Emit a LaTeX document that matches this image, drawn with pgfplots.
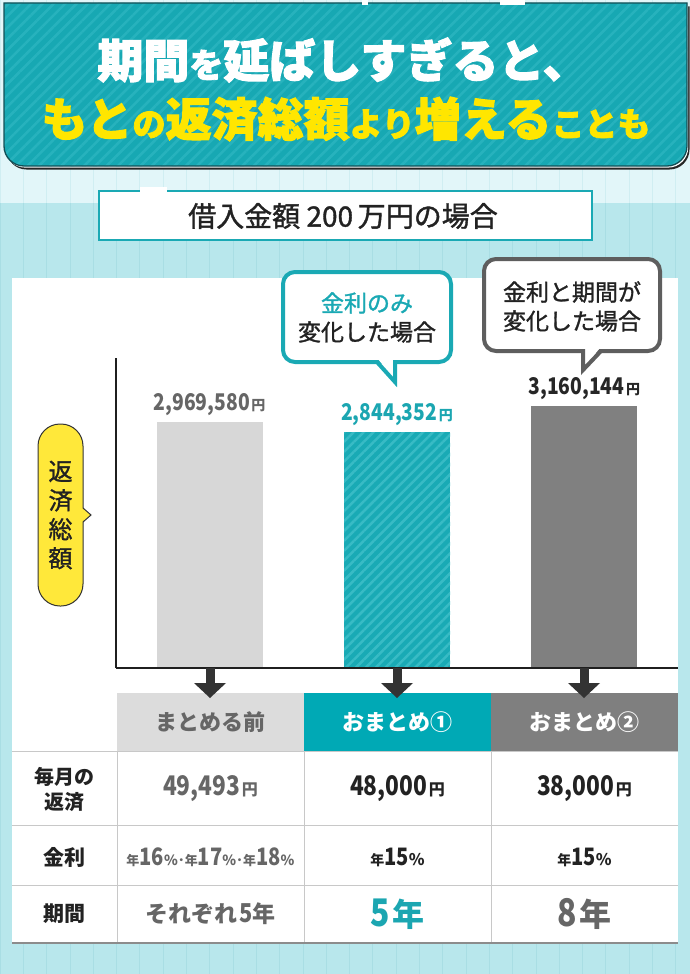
\documentclass[border=0pt]{standalone}
\usepackage{fontspec}
\setmainfont{Noto Sans CJK JP}
\newfontfamily\heavy[BoldFeatures={FakeBold=2.2}]{Noto Sans CJK JP}
\newfontfamily\med[UprightFeatures={FakeBold=1.3}]{Noto Sans CJK JP}
\usepackage{graphicx}
\usepackage{pgfplots}
\pgfplotsset{compat=1.18}
\usetikzlibrary{patterns.meta}
\definecolor{bgTop}{HTML}{E2F6F9}
\definecolor{gridTop}{HTML}{D0EEF2}
\definecolor{bgBot}{HTML}{B8E7EC}
\definecolor{gridBot}{HTML}{A9DEE4}
\definecolor{cTitle}{HTML}{17A8B3}
\definecolor{cTitleS}{HTML}{27B2BD}
\definecolor{cTitleB}{HTML}{124F56}
\definecolor{cTeal}{HTML}{1AA9B4}
\definecolor{cTealT}{HTML}{1BA6B1}
\definecolor{cHead}{HTML}{00A9B5}
\definecolor{cBarA}{HTML}{D7D7D7}
\definecolor{cBarB}{HTML}{19AAB5}
\definecolor{cBarBs}{HTML}{38BBC5}
\definecolor{cBarC}{HTML}{808080}
\definecolor{cHeadA}{HTML}{DCDCDC}
\definecolor{cHeadC}{HTML}{7F7F7F}
\definecolor{cTG}{HTML}{666666}
\definecolor{cDark}{HTML}{222222}
\definecolor{cYel}{HTML}{FFE600}
\definecolor{cPill}{HTML}{FFE83A}
\definecolor{cLine}{HTML}{C8C8C8}
\definecolor{cBub}{HTML}{5E5E5E}
\newcommand{\fs}[1]{\fontsize{#1}{#1}\selectfont}
\newcommand{\cn}[1]{\scalebox{0.84}[1]{#1}}
\begin{document}
\begin{tikzpicture}
\begin{scope}[x=1pt,y=-1pt]
\useasboundingbox (0,0) rectangle (690,974);
\clip (0,0) rectangle (690,974);
% background
\fill[bgTop] (0,0) rectangle (690,203);
\fill[bgBot] (0,203) rectangle (690,974);
\begin{scope}
\clip (0,0) rectangle (690,203);
\draw[gridTop, line width=0.8, step=23.3] (-18.3,-20) grid (700,210);
\end{scope}
\begin{scope}
\clip (0,203) rectangle (690,974);
\draw[gridBot, line width=0.8, step=23.3] (-18.3,190) grid (700,990);
\end{scope}
% title box
\def\tpath{(4,3) -- (4,146) arc[start angle=180,end angle=90,radius=20] -- (667,166) arc[start angle=90,end angle=0,radius=20] -- (687,3) -- cycle}
\fill[black!85, shift={(2.5,3.5)}] \tpath;
\fill[white, shift={(1.2,1.6)}] \tpath;
\fill[cTitle] \tpath;
\fill[pattern={Lines[angle=45,distance=8pt,line width=2.6pt]}, pattern color=cTitleS] \tpath;
\draw[cTitleB, line width=1.3] \tpath;
\fill[white] (362,0) rectangle (368,5);
\fill[white] (500,0) rectangle (525,5);
\node[text=white, inner sep=0] at (343,60) {\heavy\bfseries{\fs{46}期間}{\fs{34}を}{\fs{46}延ばしすぎると、}};
\node[text=cYel, inner sep=0] at (346,119) {\heavy\bfseries{\fs{46}もと}{\fs{33}の}{\fs{46}返済総額}{\fs{33}より}{\fs{46}増える}{\fs{33}ことも}};
% subtitle box
\draw[cTeal, line width=2.5, fill=white] (99,191) rectangle (592,240);
\fill[white] (140,187) rectangle (167,194);
\node[text=cDark] at (343,216) {\med\fs{28}借入金額 200\,万円の場合};
% white panel
\fill[white] (12,278) rectangle (678,943);
\end{scope}

\begin{axis}[
 at={(116pt,-668pt)}, anchor=south west,
 width=562pt, height=310pt, scale only axis,
 xmin=-0.5, xmax=2.5, ymin=0, ymax=3738600,
 axis x line=bottom, axis y line=left,
 axis line style={-, line width=2.6pt, draw=black!88},
 xtick=\empty, ytick=\empty,
 axis on top, clip=false,
 ybar, bar width=106pt, bar shift=0pt,
 point meta=explicit symbolic,
 nodes near coords={\bfseries\cn{\fs{23}\pgfplotspointmeta}\,{\fs{14}円}},
 every node near coord/.append style={yshift=3pt},
]
\addplot[fill=cBarA, draw=none, every node near coord/.append style={text=cTG}]
 coordinates {(0,2969580) [{2,969,580}]};
\addplot[fill=cBarB, draw=none, postaction={pattern={Lines[angle=45,distance=7pt,line width=2.5pt]}, pattern color=cBarBs}, every node near coord/.append style={text=cTealT}]
 coordinates {(1,2844352) [{2,844,352}]};
\addplot[fill=cBarC, draw=none, every node near coord/.append style={text=black!85}]
 coordinates {(2,3160144) [{3,160,144}]};
\end{axis}

\begin{scope}[x=1pt,y=-1pt]
% bubbles
\draw[cTeal, line width=4, fill=white, rounded corners=12] (283,272) rectangle (451,362);
\fill[white] (378,359) -- (393,359) -- (393,378) -- cycle;
\draw[cTeal, line width=4, line join=miter] (377,362) -- (395,382) -- (395,360);
\node[text=cTeal] at (367,303) {\med\fs{23}金利のみ};
\node[text=cDark] at (367,332) {\med\fs{23}変化した場合};
\draw[cBub, line width=4, fill=white, rounded corners=12] (484,259) rectangle (660,351);
\fill[white] (585,348) -- (600,348) -- (585,366) -- cycle;
\draw[cBub, line width=4, line join=miter] (583,349) -- (583,370) -- (601,351);
\node[text=cDark] at (572,292) {\med\fs{23}金利と期間が};
\node[text=cDark] at (572,321) {\med\fs{23}変化した場合};
% yellow pill
\draw[fill=cPill, draw=black!80, line width=1, rounded corners=22] (38,424) rectangle (83,606);
\fill[cPill] (82,508) -- (91,515) -- (82,522) -- cycle;
\draw[black!80, line width=1] (83,508) -- (91,515) -- (83,522);
\node[text=cDark, align=center, font=\med\fontsize{24}{29}\selectfont] at (60.5,515) {返\\済\\総\\額};
% header cells
\fill[cHeadA] (117,693) rectangle (304,751);
\fill[cHead] (304,693) rectangle (491,751);
\fill[cHeadC] (491,693) rectangle (678,751);
\node[text=cTG] at (210.5,722) {\bfseries\fs{22}まとめる前};
\node[text=white] at (397.5,722) {\bfseries\fs{22}おまとめ①};
\node[text=white] at (584.5,722) {\bfseries\fs{22}おまとめ②};
% arrows
\foreach \ax in {210,397,584}{
  \fill[black!80] (\ax-4.5,668) rectangle (\ax+4.5,684);
  \fill[black!80] (\ax-16,683) -- (\ax+16,683) -- (\ax,698) -- cycle;
}
% table lines
\draw[cLine, line width=1] (12,751.5) -- (678,751.5) (12,825) -- (678,825) (12,885) -- (678,885);
\draw[cLine, line width=1] (117,751) -- (117,943) (304,751) -- (304,943) (491,751) -- (491,943);
\draw[black!45, line width=1.6] (12,943) -- (678,943);
% row labels
\node[text=cDark, align=center, font=\bfseries\fontsize{20}{25}\selectfont] at (64,789) {毎月の\\返済};
\node[text=cDark] at (64,857) {\bfseries\fs{21}金利};
\node[text=cDark] at (64,914) {\bfseries\fs{21}期間};
% row 1
\node[text=cTG] at (210.5,789) {\bfseries\cn{\fs{27}49,493}\,{\fs{16}円}};
\node[text=cDark] at (397.5,789) {\bfseries\cn{\fs{27}48,000}\,{\fs{16}円}};
\node[text=cDark] at (584.5,789) {\bfseries\cn{\fs{27}38,000}\,{\fs{16}円}};
% row 2
\node[text=cTG] at (210.5,857) {\bfseries{\fs{13}年}\cn{\fs{24}16}{\fs{14}\%}{\fs{14}･}{\fs{13}年}\cn{\fs{24}17}{\fs{14}\%}{\fs{14}･}{\fs{13}年}\cn{\fs{24}18}{\fs{14}\%}};
\node[text=cDark] at (397.5,857) {\bfseries{\fs{14}年}\cn{\fs{24}15}{\fs{16}\%}};
\node[text=cDark] at (584.5,857) {\bfseries{\fs{14}年}\cn{\fs{24}15}{\fs{16}\%}};
% row 3
\node[text=cTG] at (210.5,914) {\bfseries{\fs{23}それぞれ}\,\cn{\fs{26}5}{\fs{23}年}};
\node[text=cTealT] at (397.5,914) {\bfseries\cn{\fs{38}5}\,{\fs{32}年}};
\node[text=cTG] at (584.5,914) {\bfseries\cn{\fs{38}8}\,{\fs{32}年}};
\end{scope}
\end{tikzpicture}
\end{document}
